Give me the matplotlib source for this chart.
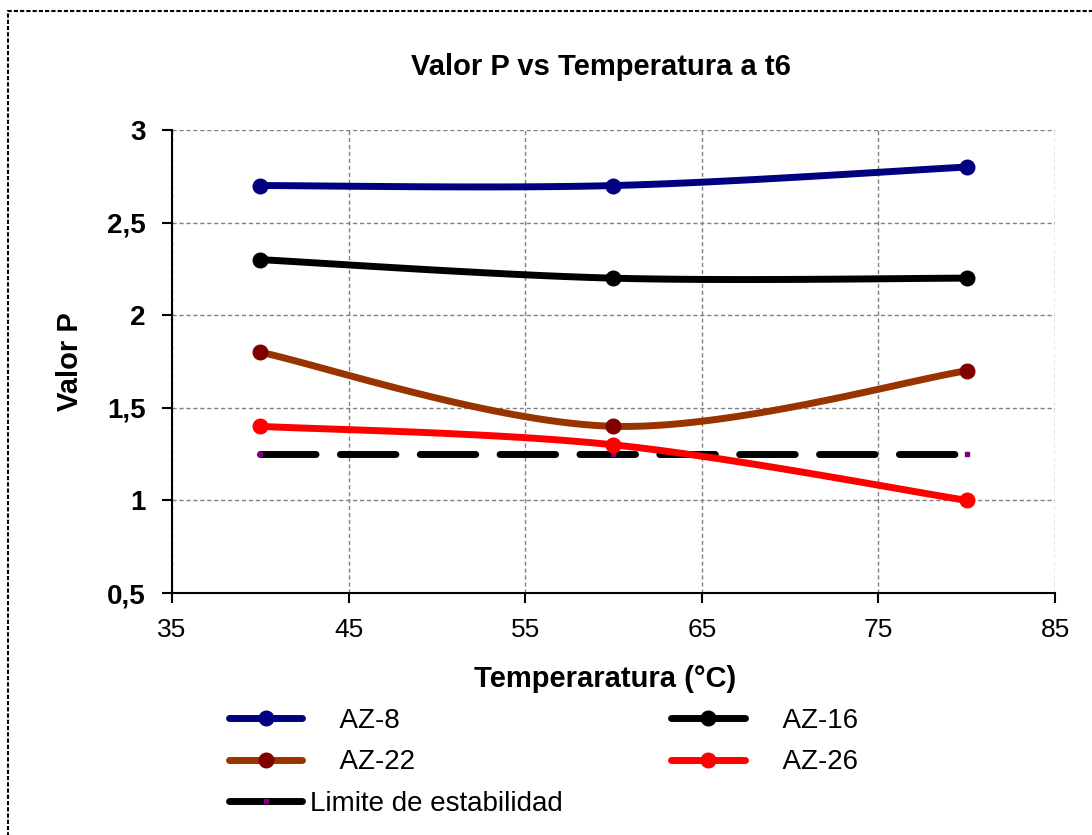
import numpy as np
import matplotlib
matplotlib.use("Agg")
import matplotlib.pyplot as plt
from matplotlib.patches import Rectangle
from matplotlib.ticker import FuncFormatter

plt.rcParams["font.family"] = ["Liberation Sans", "DejaVu Sans"]

temps = [40, 60, 80]
az8 = [2.7, 2.7, 2.8]
az16 = [2.3, 2.2, 2.2]
az22 = [1.8, 1.4, 1.7]
az26 = [1.4, 1.3, 1.0]
limite = [1.25, 1.25, 1.25]

SERIES = [
    ("    AZ-8", az8, "#000080", "#000080"),
    ("    AZ-16", az16, "#000000", "#000000"),
    ("    AZ-22", az22, "#993300", "#800000"),
    ("    AZ-26", az26, "#FF0000", "#FF0000"),
]


def smooth(x, y, n=40):
    # Catmull-Rom style bezier, like Excel's smoothed lines
    x = np.asarray(x, float)
    y = np.asarray(y, float)
    px = np.concatenate([[x[0]], x, [x[-1]]])
    py = np.concatenate([[y[0]], y, [y[-1]]])
    xs, ys = [], []
    t = np.linspace(0, 1, n)
    for i in range(1, len(px) - 2):
        p0 = np.array([px[i], py[i]])
        p3 = np.array([px[i + 1], py[i + 1]])
        c1 = p0 + (np.array([px[i + 1], py[i + 1]]) - np.array([px[i - 1], py[i - 1]])) / 6
        c2 = p3 - (np.array([px[i + 2], py[i + 2]]) - np.array([px[i], py[i]])) / 6
        b = ((1 - t) ** 3)[:, None] * p0 + (3 * (1 - t) ** 2 * t)[:, None] * c1 \
            + (3 * (1 - t) * t ** 2)[:, None] * c2 + (t ** 3)[:, None] * p3
        xs.extend(b[:, 0])
        ys.extend(b[:, 1])
    return xs, ys


fig = plt.figure(figsize=(10.92, 8.35), dpi=100)
ax = fig.add_axes([172 / 1092, 1 - 593 / 835, 883 / 1092, 463 / 835])

handles = {}
for label, vals, lc, mc in SERIES:
    sx, sy = smooth(temps, vals)
    ax.plot(sx, sy, color=lc, lw=5, solid_capstyle="round", zorder=3)
    ax.plot(temps, vals, ls="none", marker="o", ms=10.5, color=mc, zorder=4)
    handles[label] = plt.Line2D([], [], color=lc, lw=5, marker="o", ms=10.5,
                                markerfacecolor=mc, markeredgecolor=mc,
                                solid_capstyle="round")

ax.plot(temps, limite, color="black", lw=5, dashes=(8, 3.5),
        dash_capstyle="round", marker="s", ms=3.5,
        markerfacecolor="#800080", markeredgecolor="#800080", zorder=2)
handles["Limite de estabilidad"] = plt.Line2D([], [], color="black", lw=5,
                                              marker="s", ms=3,
                                              markerfacecolor="#800080",
                                              markeredgecolor="#800080",
                                              solid_capstyle="round")

ax.set_xlim(35, 85)
ax.set_ylim(0.5, 3)
ax.set_xticks([35, 45, 55, 65, 75, 85])
ax.set_yticks([0.5, 1, 1.5, 2, 2.5, 3])
ax.yaxis.set_major_formatter(FuncFormatter(lambda v, p: f"{v:g}".replace(".", ",")))
ax.grid(True, color="#808080", ls=(0, (3, 2)), lw=1)
ax.set_axisbelow(True)
for s in ["top", "right"]:
    ax.spines[s].set_visible(False)
for s in ["left", "bottom"]:
    ax.spines[s].set_linewidth(1.5)
ax.tick_params(axis="y", length=7, width=1.5, pad=12, labelsize=20)
ax.tick_params(axis="x", length=7, width=1.5, pad=11, labelsize=19)
for t in ax.get_yticklabels():
    t.set_fontweight("bold")

ax.set_xlabel("Temperaratura (°C)", fontsize=21, fontweight="bold")
ax.xaxis.set_label_coords((605 - 172) / 883, (593 - 687) / 463)
ax.xaxis.label.set_va("baseline")
ax.set_ylabel("Valor P", fontsize=21, fontweight="bold")
ax.yaxis.set_label_coords((70 - 172) / 883, 0.5)
ax.yaxis.label.set_va("center")

fig.text(601 / 1092, 1 - 75 / 835, "Valor P vs Temperatura a t6",
         fontsize=21, fontweight="bold", ha="center", va="baseline")

order = ["    AZ-8", "    AZ-22", "Limite de estabilidad", "    AZ-16", "    AZ-26"]
fig.legend([handles[k] for k in order], order, ncol=2,
           loc="upper left", bbox_to_anchor=(229 / 1092, 1 - 708 / 835),
           frameon=False, fontsize=20, handlelength=2.63, handletextpad=0.3,
           labelspacing=0.55, columnspacing=3.9, borderpad=0, borderaxespad=0)

fig.add_artist(Rectangle((8 / 1092, -0.2), 1.2, 1.2 - 11 / 835,
                         transform=fig.transFigure, fill=False, ec="black",
                         lw=1.5, ls=(0, (2, 1))))

fig.savefig("out.png", dpi=100)
